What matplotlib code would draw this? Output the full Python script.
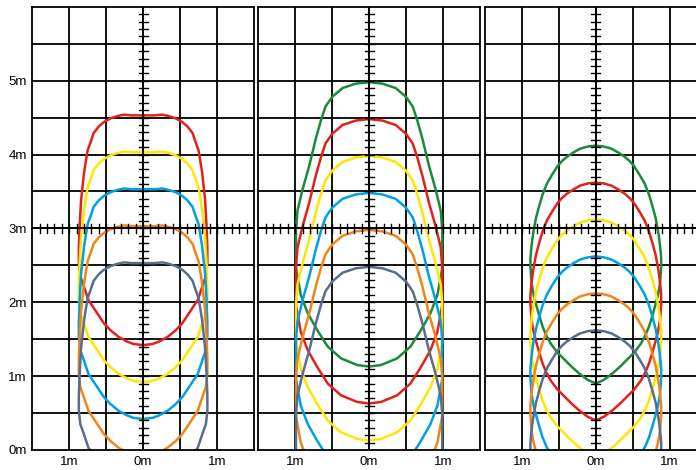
import numpy as np
import matplotlib
matplotlib.use("Agg")
import matplotlib.pyplot as plt

plt.rcParams['font.family'] = ['Liberation Sans', 'DejaVu Sans']

# curve colours, outer (highest) curve first
colors = ['#1b8a3a', '#e3211c', '#ffe600', '#00a0e2', '#f0861a', '#586d90']

# half outline of one contour (x >= 0), relative to its top point, per panel
p1_dx = [0, 0.15, 0.26, 0.35, 0.44, 0.53, 0.60, 0.67, 0.71, 0.75, 0.78, 0.80, 0.84, 0.86, 0.87,
         0.87, 0.85, 0.80, 0.74, 0.62, 0.53, 0.44, 0.33, 0.22, 0.13, 0]
p1_dy = [0, 0.0, 0.01, -0.01, -0.04, -0.09, -0.15, -0.24, -0.36, -0.47, -0.65, -0.78, -1.15, -1.52, -1.80,
         -2.0, -2.18, -2.32, -2.50, -2.68, -2.815, -2.91, -3.0, -3.06, -3.095, -3.11]

p2_dx = [0, 0.18, 0.36, 0.50, 0.59, 0.65, 0.72, 0.81, 0.90, 0.97, 0.99, 0.99, 0.925, 0.83, 0.70, 0.56, 0.38, 0.16, 0]
p2_dy = [0, -0.02, -0.08, -0.20, -0.33, -0.51, -0.76, -1.13, -1.45, -1.74, -2.0, -2.52, -2.88, -3.13, -3.36, -3.58, -3.74, -3.83, -3.85]

p3_dx = [0, 0.10, 0.21, 0.30, 0.39, 0.46, 0.52, 0.59, 0.66, 0.72, 0.77, 0.81, 0.84, 0.86, 0.875, 0.885, 0.885,
         0.87, 0.84, 0.80, 0.76, 0.72, 0.67, 0.61, 0.52, 0.42, 0.33, 0.23, 0.11, 0]
p3_dy = [0, -0.01, -0.04, -0.09, -0.15, -0.21, -0.28, -0.39, -0.51, -0.66, -0.83, -0.98, -1.14, -1.27, -1.41, -1.52, -1.64,
         -1.86, -2.03, -2.18, -2.32, -2.45, -2.57, -2.68, -2.80, -2.90, -2.99, -3.08, -3.17, -3.22]

# top heights of the contours in each panel (m)
p1_tops = [None, 4.53, 4.03, 3.53, 3.03, 2.53]
p2_tops = [4.98, 4.48, 3.98, 3.48, 2.98, 2.48]
p3_tops = [4.12, 3.62, 3.12, 2.62, 2.12, 1.62]

x_ticks = [-1, 0, 1]
x_labels = ['1m', '0m', '1m']
y_ticks = [0, 1, 2, 3, 4, 5]
y_labels = ['0m', '1m', '2m', '3m', '4m', '5m']

W, H = 696, 470
fig = plt.figure(figsize=(W / 100, H / 100), dpi=100)

panels = [(32.3, p1_dx, p1_dy, p1_tops),
          (258.3, p2_dx, p2_dy, p2_tops),
          (485.0, p3_dx, p3_dy, p3_tops)]

pw = 221.6
tick = 0.062
for i, (left, dx, dy, tops) in enumerate(panels):
    ax = fig.add_axes([left / W, 20 / H, pw / W, 443.2 / H])
    ax.set_xlim(-1.5, 1.5)
    ax.set_ylim(0, 6)
    for s in ax.spines.values():
        s.set_linewidth(1.3)
    # grid
    for gx in np.arange(-1.0, 1.01, 0.5):
        ax.axvline(gx, color='black', lw=1.3, zorder=1)
    for gy in np.arange(0.5, 5.51, 0.5):
        ax.axhline(gy, color='black', lw=1.3, zorder=1)

    # contours
    dx = np.array(dx)
    dy = np.array(dy)
    for c, t in zip(colors, tops):
        if t is None:
            continue
        xs = np.concatenate([dx, -dx[::-1]])
        ys = np.concatenate([t + dy, t + dy[::-1]])
        ax.plot(xs, ys, color=c, lw=1.8, solid_joinstyle='round', zorder=2)

    # scale axes with 0.1 m ticks
    for ty in np.arange(0.1, 5.95, 0.1):
        ax.plot([-tick, tick], [ty, ty], color='black', lw=1.0, zorder=3)
    for tx in np.arange(-1.4, 1.45, 0.1):
        ax.plot([tx, tx], [3 - tick, 3 + tick], color='black', lw=1.0, zorder=3)
    ax.axhline(3, color='black', lw=1.3, zorder=3)
    ax.axvline(0, color='black', lw=1.3, zorder=3)

    ax.set_xticks(x_ticks)
    ax.set_xticklabels(x_labels, fontsize=9.5)
    if i == 0:
        ax.set_yticks(y_ticks)
        ax.set_yticklabels(y_labels, fontsize=9.5)
    else:
        ax.set_yticks([])
    ax.tick_params(length=0, pad=4)
    if i == 2:
        ax.spines['right'].set_visible(False)

fig.savefig('out.png', dpi=100)
